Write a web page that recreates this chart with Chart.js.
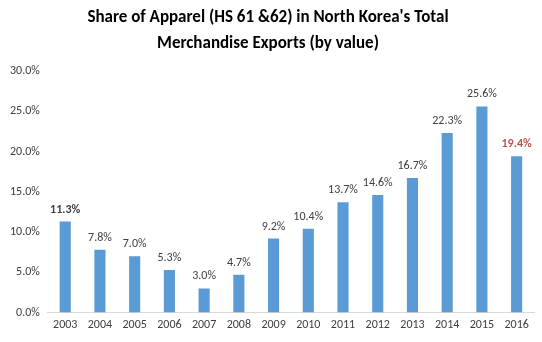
<!DOCTYPE html>
<html>
<head>
<meta charset="utf-8">
<script src="https://cdn.jsdelivr.net/npm/chart.js@4"></script>
<style>
  html, body { margin: 0; padding: 0; background: #fff; }
  #wrap { width: 542px; height: 342px; }
</style>
</head>
<body>
<div id="wrap"><canvas id="apparelChart"></canvas></div>
<script>
const years = ['2003', '2004', '2005', '2006', '2007', '2008', '2009', '2010', '2011', '2012', '2013', '2014', '2015', '2016'];
const shares = [11.3, 7.8, 7.0, 5.3, 3.0, 4.7, 9.2, 10.4, 13.7, 14.6, 16.7, 22.3, 25.6, 19.4];
const yTicks = [0, 5, 10, 15, 20, 25, 30];
const titleLines = ["Share of Apparel (HS 61 &62) in North Korea's Total", 'Merchandise Exports (by value)'];

const FONT = 'Carlito, Lato, "Open Sans", sans-serif';

// value labels on top of the bars; first is bold, last is bold red
const barLabels = {
    id: 'barLabels',
    afterDatasetsDraw(chart) {
        const ctx = chart.ctx;
        const meta = chart.getDatasetMeta(0);
        ctx.save();
        ctx.textAlign = 'center';
        ctx.textBaseline = 'bottom';
        meta.data.forEach((bar, i) => {
            const last = i === shares.length - 1;
            const bold = i === 0 || last;
            ctx.font = (bold ? 'bold ' : '') + '12px ' + FONT;
            ctx.fillStyle = last ? '#c0504d' : '#404040';
            ctx.fillText(shares[i].toFixed(1) + '%', bar.x, bar.y - 6);
        });
        ctx.restore();
    }
};

new Chart(document.getElementById('apparelChart'), {
    type: 'bar',
    data: {
        labels: years,
        datasets: [{
            data: shares,
            backgroundColor: '#5b9bd5',
            barPercentage: 0.32,
            categoryPercentage: 1
        }]
    },
    options: {
        responsive: true,
        maintainAspectRatio: false,
        animation: false,
        layout: { padding: { left: 2, right: 8, top: 0, bottom: 5 } },
        plugins: {
            legend: { display: false },
            tooltip: { enabled: false },
            title: {
                display: true,
                text: titleLines,
                color: '#000',
                font: { family: FONT, size: 17, weight: 'bold', lineHeight: 1.5 },
                padding: { top: 5, bottom: 15 }
            }
        },
        scales: {
            x: {
                grid: { display: false, drawTicks: false },
                border: { color: '#d9d9d9' },
                ticks: { color: '#404040', font: { family: FONT, size: 12 }, padding: 5, maxRotation: 0 }
            },
            y: {
                min: 0,
                max: 30,
                afterBuildTicks(axis) {
                    axis.ticks = yTicks.map(v => ({ value: v }));
                },
                grid: { display: false, drawTicks: false },
                border: { display: false },
                ticks: {
                    color: '#404040',
                    font: { family: FONT, size: 12 },
                    padding: 8,
                    callback: v => v.toFixed(1) + '%'
                }
            }
        }
    },
    plugins: [barLabels]
});
</script>
</body>
</html>
